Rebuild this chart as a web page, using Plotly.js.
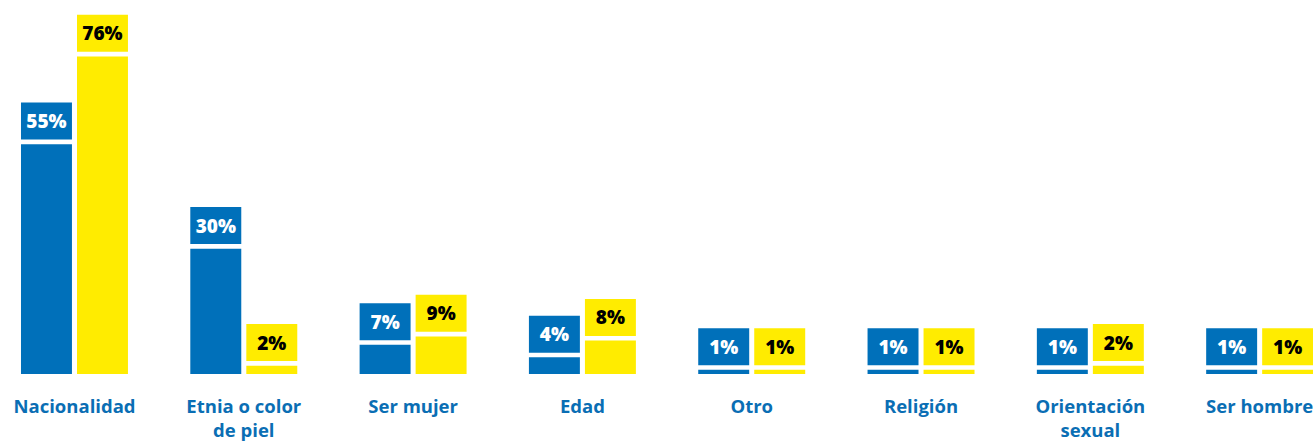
<!DOCTYPE html>
<html>
<head>
<meta charset="utf-8">
<script src="https://cdn.plot.ly/plotly-3.0.1.min.js"></script>
<style>html,body{margin:0;padding:0;background:#fff;}#chart{width:1313px;height:442px;overflow:hidden;}</style>
</head>
<body>
<div id="chart"></div>
<script>
const categories = ["Nacionalidad", "Etnia o color<br>de piel", "Ser mujer", "Edad", "Otro", "Religión", "Orientación<br>sexual", "Ser hombre"];
const seriesBlue = [55, 30, 7, 4, 1, 1, 1, 1];
const seriesYellow = [76, 2, 9, 8, 1, 1, 2, 1];

const BLUE = "#0070BA";
const YELLOW = "#FFEC00";
const FONT = "'Open Sans', sans-serif";
const GAP = 1.1;   // gap between bar and label box (in % units)
const BOX = 8.85;  // label box height (in % units)
const W = 0.301;
const xs = categories.map((c, i) => i);

function bar(vals, color, offset) {
  return {type: "bar", x: xs, y: vals, width: W, offset: offset,
    marker: {color: color, line: {width: 0}}, hoverinfo: "skip", showlegend: false};
}
function box(vals, color, offset, txtColor) {
  return {type: "bar", x: xs, y: vals.map(() => BOX), base: vals.map(v => v + GAP),
    width: W, offset: offset, marker: {color: color, line: {width: 0}},
    text: vals.map(v => v + "%"), textposition: "inside", insidetextanchor: "middle",
    textangle: 0, constraintext: "none",
    textfont: {family: FONT, size: 19, color: txtColor, weight: 800},
    hoverinfo: "skip", showlegend: false};
}

const data = [
  bar(seriesBlue, BLUE, -0.316),
  bar(seriesYellow, YELLOW, 0.0148),
  box(seriesBlue, BLUE, -0.316, "#ffffff"),
  box(seriesYellow, YELLOW, 0.0148, "#000000")
];

const layout = {
  width: 1313, height: 442,
  margin: {l: 0, r: 0, t: 0, b: 68, pad: 0},
  paper_bgcolor: "#fff", plot_bgcolor: "#fff",
  barmode: "overlay",
  xaxis: {range: [-0.44, 7.315], tickvals: xs, ticktext: categories, showgrid: false,
    zeroline: false, showline: false, ticks: "", ticklabelstandoff: 19,
    ticklabeloverflow: "allow", automargin: false,
    tickfont: {family: FONT, size: 18.5, color: "#0A6EB4", weight: 700}, fixedrange: true},
  yaxis: {range: [0, 89.5], visible: false, fixedrange: true}
};

Plotly.newPlot("chart", data, layout, {displayModeBar: false, staticPlot: true});
</script>
</body>
</html>
